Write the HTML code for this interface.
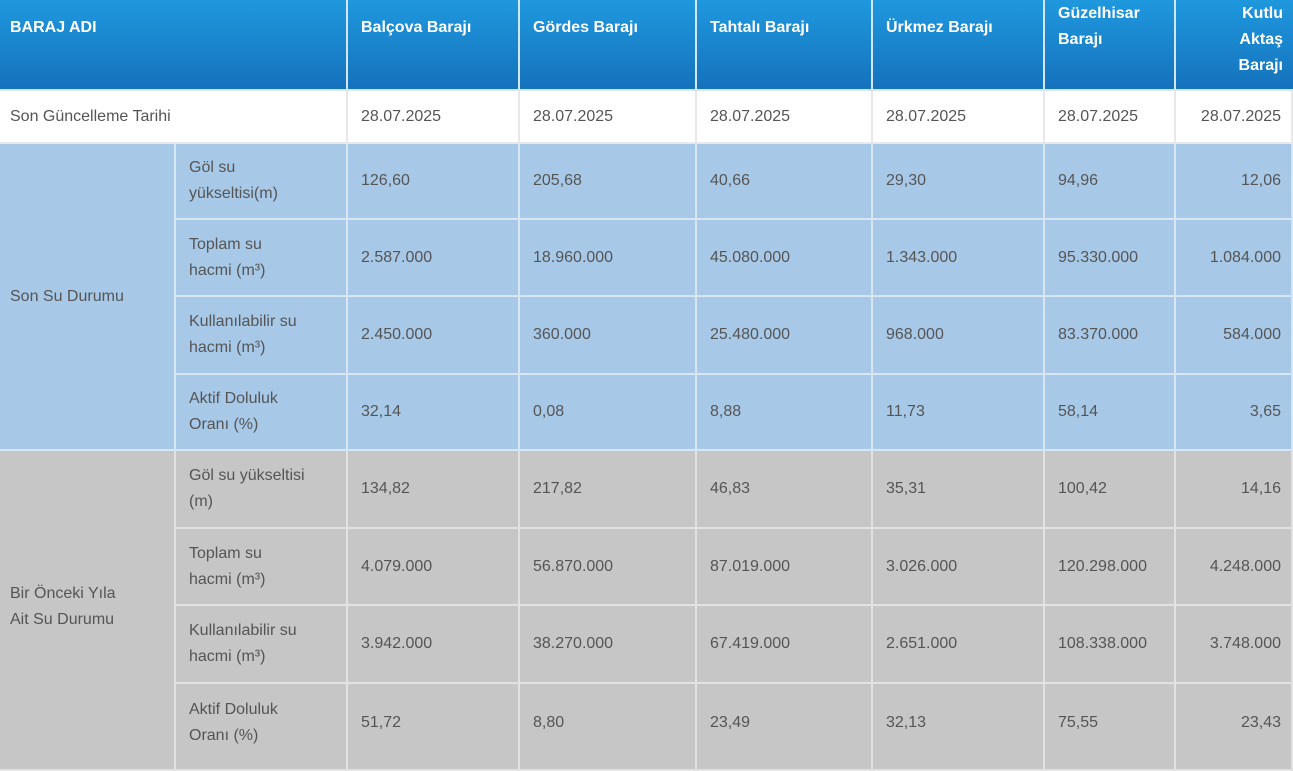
<!DOCTYPE html>
<html><head><meta charset="utf-8"><style>
body{margin:0;width:1293px;height:746px;overflow:hidden;background:#fff;font-family:"Liberation Sans",sans-serif;}
.c{position:absolute;box-sizing:border-box;display:flex;align-items:center;padding:0 12px 0 13px;font-size:16px;color:#555;line-height:26px;border-right:2px solid #e6edf3;border-bottom:2px solid #e6edf3}
.h{background:linear-gradient(#1f98de,#1572bc);color:#fff;font-weight:bold;align-items:flex-start;padding-top:15px;font-size:16px;line-height:26px;border-color:#d5e6f3}
.w{background:#fff;border-color:#e8e8e8}
.b{background:#a7c9e7;border-color:#d6e6f4}
.g{background:#c6c6c6;border-color:#e2e2e2}
.r{justify-content:flex-end;text-align:right;padding-right:10px}
</style></head><body>
<div class="c h" style="left:0;top:0;width:348px;height:91px;padding-left:10px">BARAJ ADI</div>
<div class="c h" style="left:348px;top:0;width:172px;height:91px">Balçova Barajı</div>
<div class="c h" style="left:520px;top:0;width:177px;height:91px">Gördes Barajı</div>
<div class="c h" style="left:697px;top:0;width:176px;height:91px">Tahtalı Barajı</div>
<div class="c h" style="left:873px;top:0;width:172px;height:91px">Ürkmez Barajı</div>
<div class="c h" style="left:1045px;top:0;width:131px;height:91px;padding-top:1px">Güzelhisar<br>Barajı</div>
<div class="c h r" style="left:1176px;top:0;width:117px;height:91px;padding-top:1px;border-right:0">Kutlu<br>Aktaş<br>Barajı</div>
<div class="c w" style="left:0;top:91px;width:348px;height:53px;padding-left:10px">Son Güncelleme Tarihi</div>
<div class="c w" style="left:348px;top:91px;width:172px;height:53px">28.07.2025</div>
<div class="c w" style="left:520px;top:91px;width:177px;height:53px">28.07.2025</div>
<div class="c w" style="left:697px;top:91px;width:176px;height:53px">28.07.2025</div>
<div class="c w" style="left:873px;top:91px;width:172px;height:53px">28.07.2025</div>
<div class="c w" style="left:1045px;top:91px;width:131px;height:53px">28.07.2025</div>
<div class="c w r" style="left:1176px;top:91px;width:117px;height:53px">28.07.2025</div>
<div class="c b" style="left:0;top:144px;width:176px;height:307px;padding-left:10px">Son Su Durumu</div>
<div class="c b" style="left:176px;top:144px;width:172px;height:76px">Göl su<br>yükseltisi(m)</div>
<div class="c b" style="left:348px;top:144px;width:172px;height:76px">126,60</div>
<div class="c b" style="left:520px;top:144px;width:177px;height:76px">205,68</div>
<div class="c b" style="left:697px;top:144px;width:176px;height:76px">40,66</div>
<div class="c b" style="left:873px;top:144px;width:172px;height:76px">29,30</div>
<div class="c b" style="left:1045px;top:144px;width:131px;height:76px">94,96</div>
<div class="c b r" style="left:1176px;top:144px;width:117px;height:76px">12,06</div>
<div class="c b" style="left:176px;top:220px;width:172px;height:77px">Toplam su<br>hacmi (m³)</div>
<div class="c b" style="left:348px;top:220px;width:172px;height:77px">2.587.000</div>
<div class="c b" style="left:520px;top:220px;width:177px;height:77px">18.960.000</div>
<div class="c b" style="left:697px;top:220px;width:176px;height:77px">45.080.000</div>
<div class="c b" style="left:873px;top:220px;width:172px;height:77px">1.343.000</div>
<div class="c b" style="left:1045px;top:220px;width:131px;height:77px">95.330.000</div>
<div class="c b r" style="left:1176px;top:220px;width:117px;height:77px">1.084.000</div>
<div class="c b" style="left:176px;top:297px;width:172px;height:78px">Kullanılabilir su<br>hacmi (m³)</div>
<div class="c b" style="left:348px;top:297px;width:172px;height:78px">2.450.000</div>
<div class="c b" style="left:520px;top:297px;width:177px;height:78px">360.000</div>
<div class="c b" style="left:697px;top:297px;width:176px;height:78px">25.480.000</div>
<div class="c b" style="left:873px;top:297px;width:172px;height:78px">968.000</div>
<div class="c b" style="left:1045px;top:297px;width:131px;height:78px">83.370.000</div>
<div class="c b r" style="left:1176px;top:297px;width:117px;height:78px">584.000</div>
<div class="c b" style="left:176px;top:375px;width:172px;height:76px">Aktif Doluluk<br>Oranı (%)</div>
<div class="c b" style="left:348px;top:375px;width:172px;height:76px">32,14</div>
<div class="c b" style="left:520px;top:375px;width:177px;height:76px">0,08</div>
<div class="c b" style="left:697px;top:375px;width:176px;height:76px">8,88</div>
<div class="c b" style="left:873px;top:375px;width:172px;height:76px">11,73</div>
<div class="c b" style="left:1045px;top:375px;width:131px;height:76px">58,14</div>
<div class="c b r" style="left:1176px;top:375px;width:117px;height:76px">3,65</div>
<div class="c g" style="left:0;top:451px;width:176px;height:320px;padding-left:10px;align-items:flex-start;padding-top:130px">Bir Önceki Yıla<br>Ait Su Durumu</div>
<div class="c g" style="left:176px;top:451px;width:172px;height:78px">Göl su yükseltisi<br>(m)</div>
<div class="c g" style="left:348px;top:451px;width:172px;height:78px">134,82</div>
<div class="c g" style="left:520px;top:451px;width:177px;height:78px">217,82</div>
<div class="c g" style="left:697px;top:451px;width:176px;height:78px">46,83</div>
<div class="c g" style="left:873px;top:451px;width:172px;height:78px">35,31</div>
<div class="c g" style="left:1045px;top:451px;width:131px;height:78px">100,42</div>
<div class="c g r" style="left:1176px;top:451px;width:117px;height:78px">14,16</div>
<div class="c g" style="left:176px;top:529px;width:172px;height:77px">Toplam su<br>hacmi (m³)</div>
<div class="c g" style="left:348px;top:529px;width:172px;height:77px">4.079.000</div>
<div class="c g" style="left:520px;top:529px;width:177px;height:77px">56.870.000</div>
<div class="c g" style="left:697px;top:529px;width:176px;height:77px">87.019.000</div>
<div class="c g" style="left:873px;top:529px;width:172px;height:77px">3.026.000</div>
<div class="c g" style="left:1045px;top:529px;width:131px;height:77px">120.298.000</div>
<div class="c g r" style="left:1176px;top:529px;width:117px;height:77px">4.248.000</div>
<div class="c g" style="left:176px;top:606px;width:172px;height:78px">Kullanılabilir su<br>hacmi (m³)</div>
<div class="c g" style="left:348px;top:606px;width:172px;height:78px">3.942.000</div>
<div class="c g" style="left:520px;top:606px;width:177px;height:78px">38.270.000</div>
<div class="c g" style="left:697px;top:606px;width:176px;height:78px">67.419.000</div>
<div class="c g" style="left:873px;top:606px;width:172px;height:78px">2.651.000</div>
<div class="c g" style="left:1045px;top:606px;width:131px;height:78px">108.338.000</div>
<div class="c g r" style="left:1176px;top:606px;width:117px;height:78px">3.748.000</div>
<div class="c g" style="left:176px;top:684px;width:172px;height:87px;align-items:flex-start;padding-top:13px">Aktif Doluluk<br>Oranı (%)</div>
<div class="c g" style="left:348px;top:684px;width:172px;height:87px;align-items:flex-start;padding-top:26px">51,72</div>
<div class="c g" style="left:520px;top:684px;width:177px;height:87px;align-items:flex-start;padding-top:26px">8,80</div>
<div class="c g" style="left:697px;top:684px;width:176px;height:87px;align-items:flex-start;padding-top:26px">23,49</div>
<div class="c g" style="left:873px;top:684px;width:172px;height:87px;align-items:flex-start;padding-top:26px">32,13</div>
<div class="c g" style="left:1045px;top:684px;width:131px;height:87px;align-items:flex-start;padding-top:26px">75,55</div>
<div class="c g r" style="left:1176px;top:684px;width:117px;height:87px;align-items:flex-start;padding-top:26px">23,43</div>
</body></html>
